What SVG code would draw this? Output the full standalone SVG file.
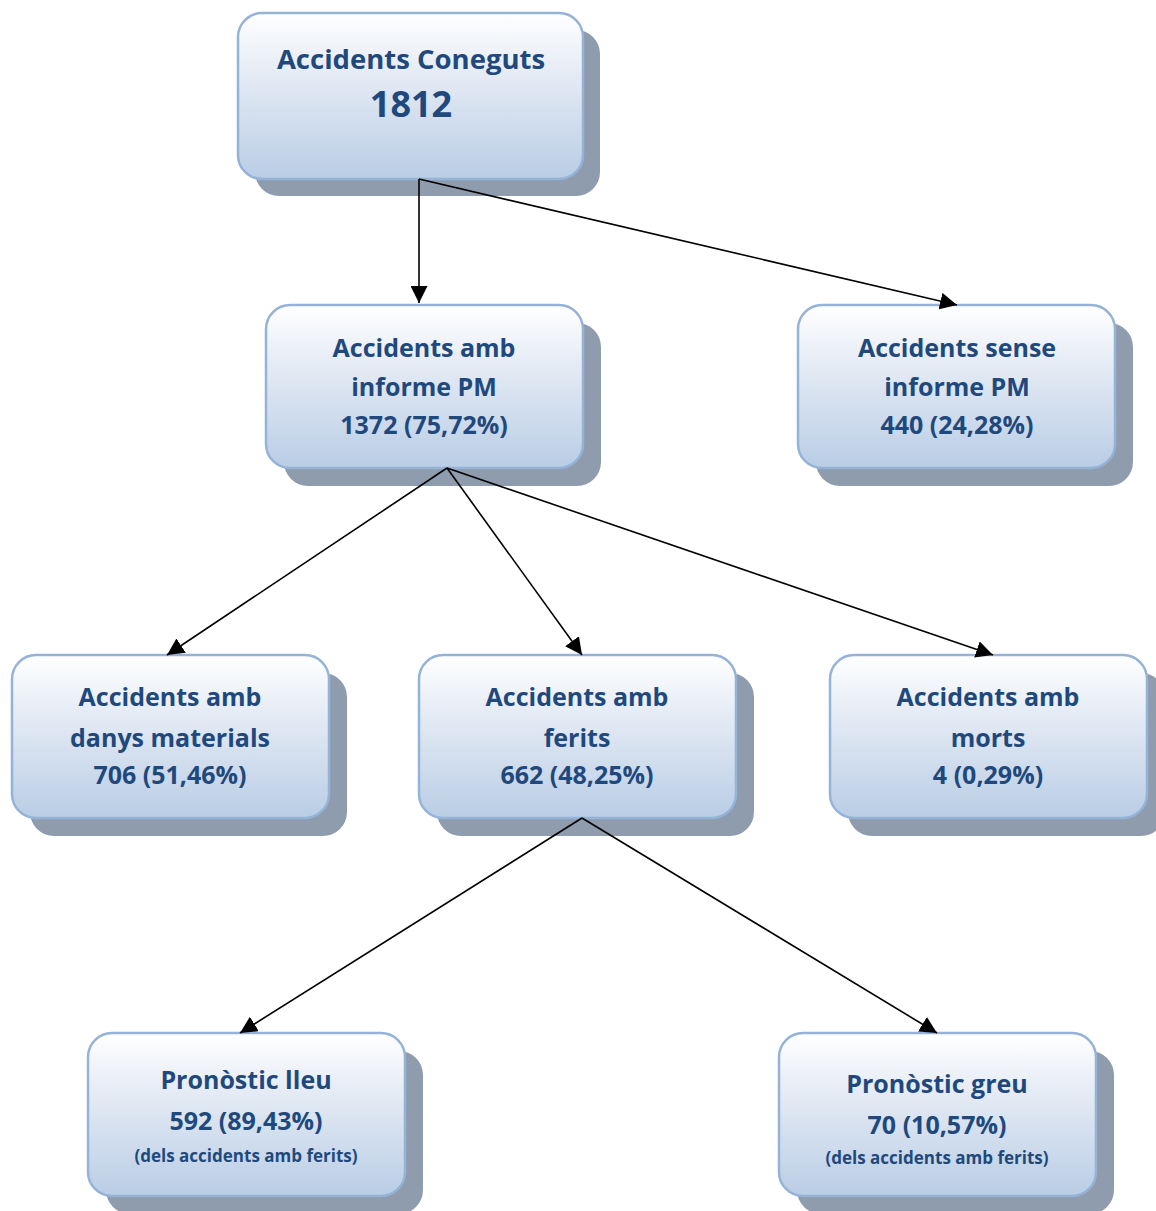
<svg xmlns="http://www.w3.org/2000/svg" width="1156" height="1211" viewBox="0 0 1156 1211">
<defs>
<linearGradient id="g" x1="0" y1="0" x2="0" y2="1">
<stop offset="0" stop-color="#ffffff"/>
<stop offset="0.35" stop-color="#e6ecf5"/>
<stop offset="1" stop-color="#b9cde5"/>
</linearGradient>
<marker id="a" viewBox="0 0 10 10" refX="10" refY="5" markerWidth="17" markerHeight="17" markerUnits="userSpaceOnUse" orient="auto">
<path d="M0,0 L10,5 L0,10 z" fill="#000"/>
</marker>
</defs>
<style>
.sh{fill:#8f9cae}
.bx{fill:url(#g);stroke:#95b3d7;stroke-width:2.5}
text{font-family:"Open Sans","Noto Sans","DejaVu Sans",sans-serif;font-weight:700;fill:#1f497d;text-anchor:middle}
.t{font-size:25px}
.s{font-size:17px}
.c{fill:none;stroke:#000;stroke-width:1.6;marker-end:url(#a)}
</style>
<g id="n1">
<rect class="sh" x="255" y="30" width="345" height="166" rx="24"/>
<rect class="bx" x="238" y="13" width="345" height="166" rx="24"/>
<text x="411" y="69" style="font-size:27.5px">Accidents Coneguts</text>
<text x="411" y="117" style="font-size:36px">1812</text>
</g>
<g id="n2">
<rect class="sh" x="284" y="323" width="317" height="163" rx="24"/>
<rect class="bx" x="266" y="305" width="317" height="163" rx="24"/>
<text class="t" x="424" y="357">Accidents amb</text>
<text class="t" x="424" y="396">informe PM</text>
<text class="t" x="424" y="434">1372 (75,72%)</text>
</g>
<g id="n3">
<rect class="sh" x="816" y="323" width="317" height="163" rx="24"/>
<rect class="bx" x="798" y="305" width="317" height="163" rx="24"/>
<text class="t" x="957" y="357">Accidents sense</text>
<text class="t" x="957" y="396">informe PM</text>
<text class="t" x="957" y="434">440 (24,28%)</text>
</g>
<g id="n4">
<rect class="sh" x="30" y="673" width="317" height="163" rx="24"/>
<rect class="bx" x="12" y="655" width="317" height="163" rx="24"/>
<text class="t" x="170" y="706">Accidents amb</text>
<text class="t" x="170" y="747">danys materials</text>
<text class="t" x="170" y="784">706 (51,46%)</text>
</g>
<g id="n5">
<rect class="sh" x="437" y="673" width="317" height="163" rx="24"/>
<rect class="bx" x="419" y="655" width="317" height="163" rx="24"/>
<text class="t" x="577" y="706">Accidents amb</text>
<text class="t" x="577" y="747">ferits</text>
<text class="t" x="577" y="784">662 (48,25%)</text>
</g>
<g id="n6">
<rect class="sh" x="848" y="673" width="317" height="163" rx="24"/>
<rect class="bx" x="830" y="655" width="317" height="163" rx="24"/>
<text class="t" x="988" y="706">Accidents amb</text>
<text class="t" x="988" y="747">morts</text>
<text class="t" x="988" y="784">4 (0,29%)</text>
</g>
<g id="n7">
<rect class="sh" x="106" y="1051" width="317" height="163" rx="24"/>
<rect class="bx" x="88" y="1033" width="317" height="163" rx="24"/>
<text class="t" x="246" y="1089">Pronòstic lleu</text>
<text class="t" x="246" y="1130">592 (89,43%)</text>
<text class="s" x="246" y="1162">(dels accidents amb ferits)</text>
</g>
<g id="n8">
<rect class="sh" x="797" y="1051" width="317" height="163" rx="24"/>
<rect class="bx" x="779" y="1033" width="317" height="163" rx="24"/>
<text class="t" x="937" y="1093">Pronòstic greu</text>
<text class="t" x="937" y="1134">70 (10,57%)</text>
<text class="s" x="937" y="1164">(dels accidents amb ferits)</text>
</g>
<g id="connectors">
<line class="c" x1="419" y1="179" x2="419" y2="303"/>
<line class="c" x1="419" y1="179" x2="957" y2="305"/>
<line class="c" x1="447" y1="468" x2="167" y2="655"/>
<line class="c" x1="447" y1="468" x2="582" y2="655"/>
<line class="c" x1="447" y1="468" x2="993" y2="655"/>
<line class="c" x1="582" y1="818" x2="240" y2="1033"/>
<line class="c" x1="582" y1="818" x2="937" y2="1033"/>
</g>
</svg>
